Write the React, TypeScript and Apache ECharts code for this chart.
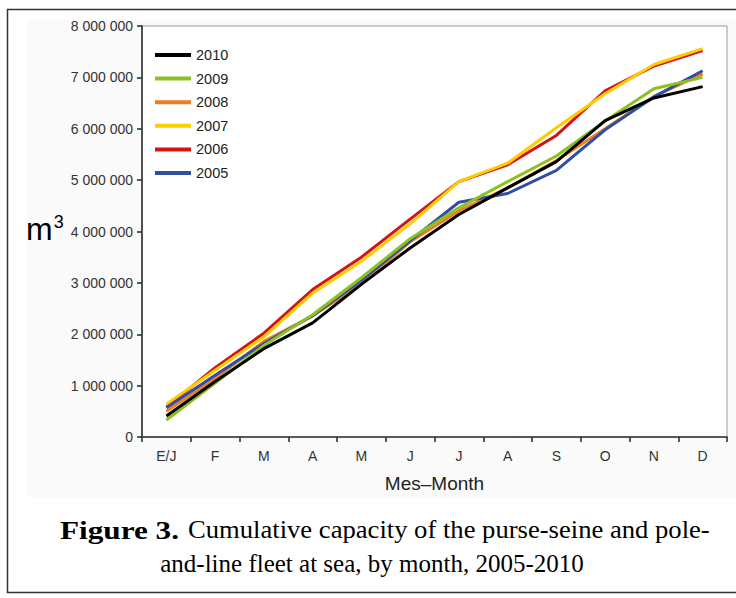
import React, { useEffect, useRef } from "react";
import * as echarts from "echarts";

const months = ["E/J", "F", "M", "A", "M", "J", "J", "A", "S", "O", "N", "D"];
const legendOrder = ["2010", "2009", "2008", "2007", "2006", "2005"];

const s2010 = [410000, 1080000, 1720000, 2220000, 2970000, 3680000, 4330000, 4850000, 5360000, 6160000, 6600000, 6820000];
const s2009 = [330000, 1050000, 1780000, 2380000, 3100000, 3860000, 4460000, 4970000, 5470000, 6150000, 6780000, 7000000];
const s2008 = [500000, 1140000, 1860000, 2360000, 2980000, 3800000, 4400000, 4850000, 5380000, 6000000, 6630000, 7070000];
const s2007 = [640000, 1300000, 1950000, 2800000, 3420000, 4150000, 4970000, 5330000, 6020000, 6680000, 7250000, 7560000];
const s2006 = [580000, 1350000, 2020000, 2870000, 3500000, 4240000, 4970000, 5300000, 5870000, 6740000, 7220000, 7520000];
const s2005 = [570000, 1200000, 1820000, 2360000, 3050000, 3820000, 4570000, 4740000, 5190000, 5980000, 6620000, 7130000];

const yMin = 0;
const yMax = 8000000;
const yStep = 1000000;

const colors: Record<string, string> = {
  "2010": "#000000",
  "2009": "#8cc21f",
  "2008": "#f07c1e",
  "2007": "#ffcc00",
  "2006": "#d21414",
  "2005": "#2e4fa5",
};

const drawOrder: [string, number[]][] = [
  ["2006", s2006],
  ["2008", s2008],
  ["2005", s2005],
  ["2009", s2009],
  ["2007", s2007],
  ["2010", s2010],
];

const fmt = (v: number) => String(v).replace(/\B(?=(\d{3})+(?!\d))/g, " ");

export default function App() {
  const ref = useRef<HTMLDivElement>(null);
  useEffect(() => {
    if (!ref.current) return;
    const chart = echarts.init(ref.current, null, { renderer: "svg" });
    const sans = "'Liberation Sans', Arial, sans-serif";
    const serif = "'Liberation Serif', 'Times New Roman', serif";
    chart.setOption({
      animation: false,
      backgroundColor: "#ffffff",
      grid: {
        left: 142,
        top: 26,
        right: 9,
        bottom: 161,
        show: true,
        borderColor: "#9a9a9a",
        borderWidth: 1,
        backgroundColor: "#ffffff",
      },
      legend: {
        data: legendOrder,
        orient: "vertical",
        left: 150,
        top: 42,
        icon: "rect",
        itemWidth: 36,
        itemHeight: 4,
        itemGap: 7.6,
        textStyle: { fontFamily: sans, fontSize: 14.5, color: "#222", lineHeight: 16 },
      },
      xAxis: {
        type: "category",
        data: months,
        boundaryGap: true,
        name: "Mes\u2013Month",
        nameLocation: "middle",
        nameGap: 37,
        nameTextStyle: { fontFamily: sans, fontSize: 19, color: "#222" },
        axisLine: { lineStyle: { color: "#333", width: 1.6 } },
        axisTick: { show: true, length: 5, lineStyle: { color: "#333", width: 1.6 } },
        axisLabel: { fontFamily: sans, fontSize: 14, color: "#333", margin: 12 },
        splitLine: { show: false },
      },
      yAxis: {
        type: "value",
        min: yMin,
        max: yMax,
        interval: yStep,
        axisLine: { show: true, lineStyle: { color: "#333", width: 1.6 } },
        axisTick: { show: true, length: 5, lineStyle: { color: "#333", width: 1.6 } },
        axisLabel: { fontFamily: sans, fontSize: 14, color: "#333", margin: 9, formatter: (v: number) => fmt(v) },
        splitLine: { show: false },
      },
      series: drawOrder.map(([name, data]) => ({
        name,
        type: "line",
        data,
        showSymbol: false,
        symbol: "none",
        itemStyle: { color: colors[name] },
        lineStyle: { color: colors[name], width: 3 },
      })),
      graphic: [
        {
          type: "rect",
          shape: { x: 7.5, y: 9.5, width: 740, height: 583 },
          style: { fill: "none", stroke: "#333", lineWidth: 1.5 },
          z: 100,
        },
        {
          type: "rect",
          shape: { x: 27, y: 20, width: 720, height: 477 },
          style: { fill: "#fafafa" },
          z: -10,
          silent: true,
        },
        {
          type: "text",
          x: 26,
          y: 213,
          style: {
            text: "{m|m}{s|3}",
            rich: {
              m: { fontFamily: sans, fontSize: 32, color: "#222", verticalAlign: "bottom" },
              s: { fontFamily: sans, fontSize: 18, color: "#222", verticalAlign: "top", padding: [0, 0, 14, 1] },
            },
          },
        },
        {
          type: "text",
          x: 60,
          y: 530,
          scaleX: 1.2,
          style: {
            text: "Figure 3.",
            align: "left",
            verticalAlign: "middle",
            fontFamily: serif,
            fontSize: 26,
            fontWeight: "bold",
            fill: "#000",
          },
        },
        {
          type: "text",
          x: 188,
          y: 530,
          scaleX: 1.065,
          style: {
            text: "Cumulative capacity of the purse-seine and pole-",
            align: "left",
            verticalAlign: "middle",
            fontFamily: serif,
            fontSize: 25,
            fill: "#000",
          },
        },
        {
          type: "text",
          x: 372,
          y: 563,
          style: {
            text: "and-line fleet at sea, by month, 2005-2010",
            align: "center",
            verticalAlign: "middle",
            fontFamily: serif,
            fontSize: 25,
            fill: "#000",
          },
        },
      ],
    });
    return () => chart.dispose();
  }, []);
  return (
    <div
      ref={ref}
      style={{ position: "fixed", left: 0, top: 0, width: 736, height: 598 }}
    />
  );
}
